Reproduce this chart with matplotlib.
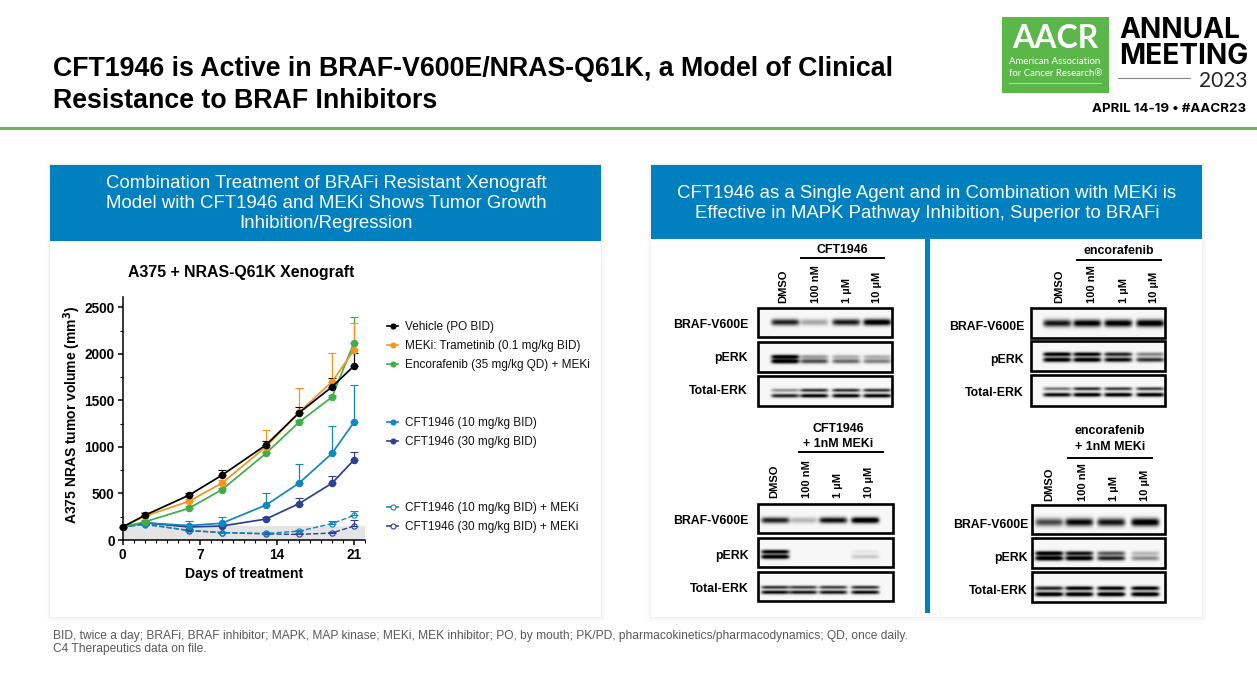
import numpy as np
import matplotlib
matplotlib.use("Agg")
import matplotlib.pyplot as plt
from matplotlib.patches import Rectangle

plt.rcParams['font.family'] = ['Liberation Sans', 'DejaVu Sans']

# tumor volume
days = [0, 2, 6, 9, 13, 16, 19, 21]
vehicle = [140, 265, 480, 695, 1020, 1365, 1645, 1870]
vehicle_top = [140, 285, 505, 750, 1065, 1430, 1745, 2005]
meki = [140, 255, 415, 610, 1000, 1370, 1700, 2040]
meki_top = [140, 305, 440, 640, 1180, 1630, 2010, 2335]
enco = [140, 195, 340, 540, 930, 1265, 1535, 2120]
enco_top = [140, 220, 370, 560, 950, 1290, 1560, 2400]
cft10 = [140, 185, 155, 180, 375, 610, 930, 1265]
cft10_top = [140, 200, 200, 250, 510, 820, 1220, 1670]
cft30 = [140, 185, 140, 150, 225, 390, 610, 860]
cft30_top = [140, 200, 160, 170, 250, 455, 690, 950]
cft10_meki = [140, 165, 105, 80, 70, 95, 175, 265]
cft10_meki_top = [140, 180, 120, 90, 85, 110, 200, 315]
cft30_meki = [140, 175, 100, 80, 65, 60, 75, 150]
cft30_meki_top = [140, 190, 115, 90, 75, 70, 85, 220]

legend_labels = ["Vehicle (PO BID)", "MEKi: Trametinib (0.1 mg/kg BID)",
                 "Encorafenib (35 mg/kg QD) + MEKi", "CFT1946 (10 mg/kg BID)",
                 "CFT1946 (30 mg/kg BID)", "CFT1946 (10 mg/kg BID) + MEKi",
                 "CFT1946 (30 mg/kg BID) + MEKi"]

# band strength per lane (DMSO, 100 nM, 1 uM, 10 uM)
lane_names = ["DMSO", "100 nM", "1 µM", "10 µM"]
cft_braf = [0.75, 0.28, 0.78, 0.95]
cft_perk_up = [0.95, 0.32, 0.25, 0.25]
cft_perk_lo = [1.0, 0.6, 0.5, 0.42]
cft_total_up = [0.35, 0.7, 0.7, 0.7]
cft_total_lo = [0.75, 0.9, 0.9, 0.9]

enc_braf = [0.8, 0.9, 0.92, 0.95]
enc_perk_up = [0.95, 0.9, 0.75, 0.4]
enc_perk_lo = [0.95, 0.95, 0.85, 0.7]
enc_total_up = [0.45, 0.7, 0.65, 0.65]
enc_total_lo = [0.85, 0.95, 0.95, 0.95]

cftm_braf = [0.75, 0.22, 0.82, 1.0]
cftm_perk_up = [0.9, 0.0, 0.0, 0.06]
cftm_perk_lo = [1.0, 0.0, 0.0, 0.16]
cftm_total_up = [0.7, 0.65, 0.65, 0.7]
cftm_total_lo = [0.85, 0.8, 0.8, 0.85]

encm_braf = [0.6, 0.85, 0.8, 0.95]
encm_perk_up = [0.95, 0.8, 0.55, 0.22]
encm_perk_lo = [1.0, 0.95, 0.75, 0.38]
encm_total_up = [0.75, 0.9, 0.9, 0.9]
encm_total_lo = [1.0, 1.0, 1.0, 1.0]

BLUE = '#0080BF'
WIDTH, HEIGHT = 1257, 676


def draw_blot(ax, box, lanes, rows, bands):
    # box = (x0, x1), rows = [(y0, y1)...], bands = [[(y, sigma, strengths)...] per row]
    for (y0, y1), row_bands in zip(rows, bands):
        xs = np.arange(box[0], box[1], 0.5)
        ys = np.arange(y0, y1, 0.5)
        img = np.full((len(ys), len(xs)), 0.03)
        for yc, sig, strengths in row_bands:
            for lx, s in zip(lanes, strengths):
                across = np.exp(-((xs - lx) / 14) ** 8)
                down = np.exp(-((ys - yc) / sig) ** 2)
                img += s * 1.15 * np.outer(down, across)
        ax.imshow(np.clip(img, 0, 1), cmap='gray_r', vmin=0, vmax=1, aspect='auto',
                  extent=(box[0], box[1], y1, y0), interpolation='bilinear', zorder=3)
        ax.add_patch(Rectangle((box[0], y0), box[1] - box[0], y1 - y0, fill=False,
                               ec='black', lw=1.9, zorder=4))


def blot_labels(ax, xs, bottom, label_x, label_ys, head_x, head_ys, head_lines, bar):
    for x, name in zip(xs, lane_names):
        ax.text(x, bottom, name, rotation=90, ha='center', va='bottom', fontsize=8,
                fontweight='bold', zorder=5)
    for y, name in zip(label_ys, ["BRAF-V600E", "pERK", "Total-ERK"]):
        ax.text(label_x, y + 1.5, name, ha='right', va='center', fontsize=8.8, fontweight='bold', zorder=5)
    for y, line in zip(head_ys, head_lines):
        ax.text(head_x, y + 1, line, ha='center', va='center', fontsize=8.9, fontweight='bold', zorder=5)
    ax.plot(bar[:2], [bar[2], bar[2]], color='black', lw=1.4, zorder=5)


fig = plt.figure(figsize=(WIDTH / 100, HEIGHT / 100), dpi=100, facecolor='white')
bg = fig.add_axes([0, 0, 1, 1])
bg.set_axis_off()

# slide furniture
bg.add_patch(Rectangle((0, 127), WIDTH, 3.2, color='#6DB65A', lw=0))
bg.text(53, 69, "CFT1946 is Active in BRAF-V600E/NRAS-Q61K, a Model of Clinical",
        fontsize=19.25, fontweight='bold', va='center')
bg.text(53, 101, "Resistance to BRAF Inhibitors", fontsize=19.25, fontweight='bold', va='center')

# logo
bg.add_patch(Rectangle((1002, 17), 107, 76, color='#5CB74B', lw=0))
bg.text(1055, 39, "AACR", color='white', fontsize=23, ha='center', va='center', family='Lato',
        fontweight='bold')
bg.text(1009, 62, "American Association", color='white', fontsize=6.9, va='center', family='Lato')
bg.text(1009, 73, "for Cancer Research®", color='white', fontsize=6.9, va='center', family='Lato')
bg.plot([1009, 1101], [83, 83], color='#BFE5B5', lw=0.6)
bg.text(1119, 30, "ANNUAL", fontsize=20.2, fontweight='bold', va='center', family='Inter')
bg.text(1119, 56, "MEETING", fontsize=20.2, fontweight='bold', va='center', family='Inter')
bg.text(1247, 81, "2023", fontsize=15, ha='right', va='center', family='Lato', color='#222222')
bg.plot([1118, 1190], [78, 78], color='#888888', lw=0.8)
bg.text(1246, 109, "APRIL 14-19 • #AACR23", fontsize=9.6, fontweight='bold', ha='right', va='center',
        family='Inter')

# panels with a soft shadow
for x0 in (50, 651):
    for grow, alpha in ((4, 0.012), (2.5, 0.018), (1, 0.025)):
        bg.add_patch(Rectangle((x0 - grow, 165 - grow), 551 + 2 * grow, 452 + 2 * grow,
                               color='black', alpha=alpha, lw=0, zorder=1))
    bg.add_patch(Rectangle((x0, 165), 551, 452, fc='white', ec='none', zorder=2))
bg.add_patch(Rectangle((50, 165), 551, 76, color=BLUE, lw=0, zorder=3))
bg.add_patch(Rectangle((651, 165), 551, 74, color=BLUE, lw=0, zorder=3))
bg.add_patch(Rectangle((925, 239), 4.5, 374, color=BLUE, lw=0, zorder=3))

for y, line in zip((184, 204, 224), ("Combination Treatment of BRAFi Resistant Xenograft",
                                     "Model with CFT1946 and MEKi Shows Tumor Growth",
                                     "Inhibition/Regression")):
    bg.text(326, y, line, color='white', fontsize=13.4, ha='center', va='center', zorder=4)
for y, line in zip((194, 214), ("CFT1946 as a Single Agent and in Combination with MEKi is",
                                "Effective in MAPK Pathway Inhibition, Superior to BRAFi")):
    bg.text(927, y, line, color='white', fontsize=13.4, ha='center', va='center', zorder=4)

bg.text(241, 272, "A375 + NRAS-Q61K Xenograft", fontsize=11.45, fontweight='bold', ha='center',
        va='center', zorder=4)

# footnote
bg.text(53, 636, "BID, twice a day; BRAFi, BRAF inhibitor; MAPK, MAP kinase; MEKi, MEK inhibitor; PO, by mouth; "
        "PK/PD, pharmacokinetics/pharmacodynamics; QD, once daily.",
        fontsize=8.64, color='#595959', va='center')
bg.text(53, 649, "C4 Therapeutics data on file.", fontsize=8.64, color='#595959', va='center')

# western blots
draw_blot(bg, (758, 892), [785, 814, 846, 877], [(308, 337), (342, 372), (376, 406)], [
    [(322, 3.2, cft_braf)],
    [(356.5, 2.0, cft_perk_up), (361, 2.3, cft_perk_lo)],
    [(390, 1.7, cft_total_up), (395.5, 1.9, cft_total_lo)]])
blot_labels(bg, [783, 816, 847, 877], 303, 748, [324, 357, 390], 842, [249], ["CFT1946"], (801, 884, 258))

draw_blot(bg, (1031, 1165), [1057, 1087, 1118, 1150], [(308, 338), (341, 371), (375, 406)], [
    [(323, 3.6, enc_braf)],
    [(354, 2.0, enc_perk_up), (359.5, 2.3, enc_perk_lo)],
    [(388.5, 1.7, enc_total_up), (394.5, 2.0, enc_total_lo)]])
blot_labels(bg, [1059, 1092, 1124, 1154], 303, 1024, [325, 358, 392], 1119, [250], ["encorafenib"],
            (1077, 1161, 260))

draw_blot(bg, (758, 893), [775, 803, 833, 865], [(504, 533), (538, 567), (572, 601)], [
    [(520, 3.0, cftm_braf)],
    [(551.5, 2.0, cftm_perk_up), (556.5, 2.2, cftm_perk_lo)],
    [(587, 1.6, cftm_total_up), (592, 1.9, cftm_total_lo)]])
blot_labels(bg, [774, 807, 838, 869], 498, 749, [519, 554, 587], 838, [428, 443],
            ["CFT1946", "+ 1nM MEKi"], (799, 883, 452))

draw_blot(bg, (1032, 1165), [1049, 1079, 1111, 1145], [(505, 534), (538, 568), (572, 602)], [
    [(522, 3.9, encm_braf)],
    [(553, 2.1, encm_perk_up), (558, 2.4, encm_perk_lo)],
    [(588, 2.0, encm_total_up), (594, 2.2, encm_total_lo)]])
blot_labels(bg, [1049, 1083, 1114, 1145], 501, 1028, [523, 556, 589], 1110, [430, 446],
            ["encorafenib", "+ 1nM MEKi"], (1068, 1152, 458))

# legend of the tumor graph, spaced like on the slide
legend_styles = [('black', '-', 'black'), ('#F7941D', '-', '#F7941D'), ('#3FAE49', '-', '#3FAE49'),
                 ('#0F87BF', '-', '#0F87BF'), ('#2E3F94', '-', '#2E3F94'),
                 ('#0F87BF', '--', 'white'), ('#2E3F94', '--', 'white')]
for y, label, (c, ls, mfc) in zip((326, 345, 364, 422, 441, 507, 526), legend_labels, legend_styles):
    bg.plot([387, 398], [y, y], color=c, lw=1.2, zorder=4)
    bg.plot([392.5], [y], 'o', ms=3.6, mfc=mfc, mec=c, mew=0.8, zorder=5)
    bg.text(405, y + 0.8, label, fontsize=8.5, va='center', color='#111111', zorder=4)

bg.set_xlim(0, WIDTH)
bg.set_ylim(HEIGHT, 0)

# tumor volume graph
ax = fig.add_axes([122.7 / WIDTH, 1 - 540 / HEIGHT, (365 - 122.7) / WIDTH, (540 - 297) / HEIGHT])
ax.patch.set_alpha(0)
ax.set_xlim(0, 22)
ax.set_ylim(0, 2500 * (540 - 297) / (540 - 307.3))
ax.add_patch(Rectangle((0, 0), 22, 150, color='#E4E4E4', lw=0, zorder=1))

series = [(cft30_meki, cft30_meki_top, '#2E3F94', True),
          (cft10_meki, cft10_meki_top, '#0F87BF', True),
          (cft30, cft30_top, '#2E3F94', False),
          (cft10, cft10_top, '#0F87BF', False),
          (enco, enco_top, '#3FAE49', False),
          (meki, meki_top, '#F7941D', False),
          (vehicle, vehicle_top, 'black', False)]
for values, tops, color, is_open in series:
    upper = np.array(tops) - np.array(values)
    ax.errorbar(days, values, yerr=[np.zeros(len(upper)), upper], color=color,
                ls='--' if is_open else '-', lw=1.0 if is_open else 1.25,
                marker='o', ms=3.8 if is_open else 4.6,
                mfc='none' if is_open else color, mec=color, mew=0.8,
                capsize=2.8, capthick=0.9, elinewidth=0.9, zorder=3, clip_on=False)

for side in ('top', 'right'):
    ax.spines[side].set_visible(False)
for side in ('left', 'bottom'):
    ax.spines[side].set_linewidth(1.1)
ax.set_xticks([0, 7, 14, 21])
ax.set_xticks(range(0, 23), minor=True)
ax.set_yticks([0, 500, 1000, 1500, 2000, 2500])
ax.set_yticks(range(250, 2750, 500), minor=True)
ax.tick_params(which='major', length=3.8, width=1.1, labelsize=9.8, pad=2)
ax.tick_params(which='minor', length=2, width=0.8)
for tick in ax.get_xticklabels() + ax.get_yticklabels():
    tick.set_fontweight('bold')
ax.set_xlabel("Days of treatment", fontsize=10.1, fontweight='bold')
ax.xaxis.set_label_coords(0.5, -0.112)
ax.set_ylabel("A375 NRAS tumor volume (mm$\\mathbf{^3}$)", fontsize=10, fontweight='bold')
ax.yaxis.set_label_coords((83 - 122.7) / 242.3, 0.514)

fig.savefig("out.png", dpi=100)
